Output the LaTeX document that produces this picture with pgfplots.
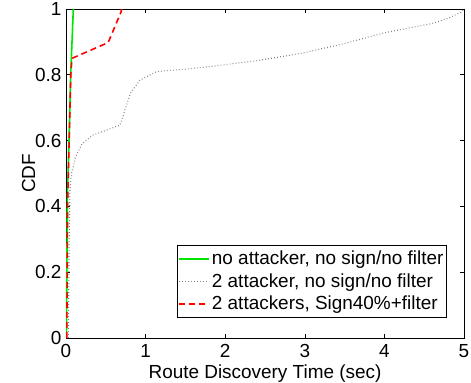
\documentclass[border=0pt]{standalone}
\usepackage{pgfplots}
\pgfplotsset{compat=1.18}
\usetikzlibrary{calc}
\usepackage{fontspec}
\setmainfont{Liberation Sans}
\definecolor{mgreen}{rgb}{0,0.9,0}
\definecolor{mgray}{rgb}{0.5,0.5,0.5}
\begin{document}
\fontsize{19}{22}\selectfont
\begin{tikzpicture}[x=1bp,y=1bp]
\begin{axis}[
  name=ax,
  scale only axis,
  width=398bp, height=329bp,
  xmin=0, xmax=5, ymin=0, ymax=1,
  xtick={0,1,2,3,4,5},
  ytick={0,0.2,0.4,0.6,0.8,1},
  yticklabels={0,0.2,0.4,0.6,0.8,1},
  xticklabels={0,1,2,3,4,5},
  /pgf/number format/assume math mode=true,
  tick align=inside,
  major tick length=4bp,
  tick style={black, line width=0.6pt},
  axis line style={black, line width=0.9pt},
  every tick label/.append style={font=\fontsize{19}{22}\selectfont},
  xlabel={Route Discovery Time (sec)},
  ylabel={CDF},
  label style={font=\fontsize{19}{22}\selectfont},
  xlabel style={yshift=6bp},
  ylabel style={yshift=-13bp},
  xticklabel style={yshift=0bp},
  yticklabel style={xshift=2bp},
  legend style={at={(0.957,0.061)}, anchor=south east, line width=0.9pt,
     font=\fontsize{19}{22}\selectfont, row sep=2pt, inner xsep=1pt, inner ysep=3pt},
  legend cell align=left,
  legend image code/.code={\draw[#1] (0bp,0bp) -- (30bp,0bp);},
]
\addplot[color=mgreen, line width=1.6pt] coordinates {
(0.005,0) (0.017,0.42) (0.038,0.6) (0.059,0.8) (0.092,1)};
\addlegendentry{no attacker, no sign/no filter}
\addplot[color=mgray, line width=1.1pt, dash pattern=on 0.8bp off 2.2bp] coordinates {
(0.03,0) (0.04,0.3) (0.05,0.45) (0.07,0.50) (0.12,0.55) (0.2,0.59) (0.34,0.617) (0.68,0.647) (0.74,0.693) (0.81,0.744) (0.93,0.784) (1.14,0.81) (1.5,0.817) (1.81,0.825) (2.4,0.843) (2.95,0.865) (3.5,0.895) (3.99,0.927) (4.3,0.942) (4.62,0.957) (4.8,0.972) (4.96,0.99) (5,1)};
\addlegendentry{2 attacker, no sign/no filter}
\addplot[color=red, line width=1.6pt, dash pattern=on 6bp off 4bp] coordinates {
(0.01,0) (0.02,0.4) (0.04,0.6) (0.06,0.8) (0.075,0.85) (0.53,0.898) (0.69,0.99) (0.7,1)};
\addlegendentry{2 attackers, Sign40\%+filter}
\end{axis}
\pgfresetboundingbox
\path[use as bounding box] ($(ax.south west)+(-66bp,-45bp)$) rectangle ($(ax.north east)+(7bp,9bp)$);
\end{tikzpicture}
\end{document}
